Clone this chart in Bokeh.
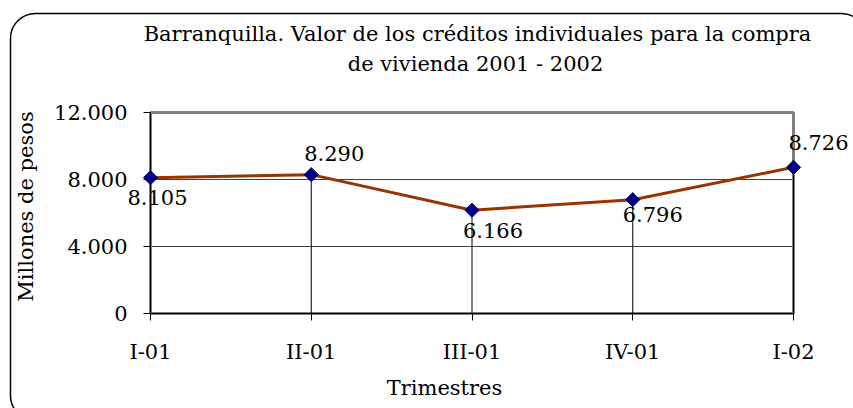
from bokeh.plotting import figure
from bokeh.models import Range1d, FixedTicker, Label, LabelSet, BoxAnnotation, ColumnDataSource
from bokeh.core.properties import value
from bokeh.embed import file_html
from bokeh.resources import INLINE
import numpy as np

# ---- data ----
categories = ["I-01", "II-01", "III-01", "IV-01", "I-02"]
values = [8105, 8290, 6166, 6796, 8726]
value_labels = ["8.105", "8.290", "6.166", "6.796", "8.726"]
y_ticks = [0, 4000, 8000, 12000]
y_tick_labels = ["0", "4.000", "8.000", "12.000"]
title_lines = ["Barranquilla. Valor de los créditos individuales para la compra",
               "de vivienda 2001 - 2002"]
x_title = "Trimestres"
y_title = "Millones de pesos"

# data-label placement (pixels): right shift, upward shift
label_dx = [7, 23, 21, 20, 25]
label_dy = [-20, 21, -20, -15, 25]

# ---- layout (pixels) ----
FONT = "DejaVu Serif"
FS = "21px"
W, H = 853, 408
PX_L, PX_R, PX_T, PX_B = 150, 793, 112, 313   # plot area edges

n = len(categories)
ymax = max(y_ticks)
xpp = (n - 1) / (PX_R - PX_L)
ypp = ymax / (PX_B - PX_T)

p = figure(width=W, height=H, output_backend="svg", toolbar_location=None,
           title_location=None,
           x_range=Range1d(-PX_L * xpp, (n - 1) + (W - PX_R) * xpp),
           y_range=Range1d(-(H - PX_B) * ypp, ymax + PX_T * ypp),
           min_border=0, min_border_left=0, min_border_right=0,
           min_border_top=0, min_border_bottom=0)
p.background_fill_color = "white"
p.border_fill_color = "white"
p.outline_line_color = None

xs = list(range(n))

# plot-area frame (gray)
p.quad(left=0, right=n - 1, bottom=0, top=ymax, fill_color=None,
       line_color="#808080", line_width=3)

# axes
p.xaxis.fixed_location = 0
p.yaxis.fixed_location = 0
p.xaxis.bounds = (0, n - 1)
p.yaxis.bounds = (0, ymax)
p.xaxis.ticker = FixedTicker(ticks=xs)
p.xaxis.major_label_overrides = {i: c for i, c in enumerate(categories)}
p.yaxis.ticker = FixedTicker(ticks=y_ticks)
p.yaxis.major_label_overrides = {t: s for t, s in zip(y_ticks, y_tick_labels)}
for ax in (p.xaxis, p.yaxis):
    ax.axis_line_color = "black"
    ax.axis_line_width = 1
    ax.major_tick_line_color = "black"
    ax.major_tick_out = 7
    ax.major_tick_in = 0
    ax.minor_tick_line_color = None
    ax.major_label_text_font = FONT
    ax.major_label_text_font_size = FS
    ax.major_label_text_color = "black"
p.xaxis.major_label_standoff = 19
p.yaxis.major_label_standoff = 16

p.xgrid.grid_line_color = None
p.ygrid.grid_line_color = "#404040"
p.ygrid.grid_line_width = 1
p.ygrid.cross_bounds = (0, n - 1)

src = ColumnDataSource(dict(x=xs, y=values, zero=[0] * n, lab=value_labels,
                            dx=label_dx, dy=label_dy))

# drop lines
p.segment(x0="x", y0="zero", x1="x", y1="y", source=src, line_color="black", line_width=1)
# series
p.line(x="x", y="y", source=src, line_color="#993300", line_width=3, level="overlay")
p.scatter(x="x", y="y", source=src, marker="square", angle=np.pi / 4, size=10,
          fill_color="#000080", line_color="#000080", level="overlay")

p.add_layout(LabelSet(x="x", y="y", text="lab", source=src, x_offset="dx", y_offset="dy",
                      text_align="center", text_baseline="middle",
                      text_font=value(FONT), text_font_size=value(FS), text_color="black"))

def txt(x, y, s, angle=0.0):
    p.add_layout(Label(x=x, y=H - y, x_units="screen", y_units="screen", text=s, angle=angle,
                       text_align="center", text_baseline="middle",
                       text_font=FONT, text_font_size=FS, text_color="black"))

txt(477, 33, title_lines[0])
txt(475, 63, title_lines[1])
txt(444, 387, x_title)
txt(25, 206, y_title, angle=np.pi / 2)

# rounded chart border
p.add_layout(BoxAnnotation(left=10, right=866, top=H - 13, bottom=H - 420,
                           left_units="screen", right_units="screen",
                           top_units="screen", bottom_units="screen",
                           fill_color=None, line_color="black", line_alpha=1.0,
                           line_width=1.5, border_radius=25))

open("out.html", "w").write(file_html(p, INLINE))
